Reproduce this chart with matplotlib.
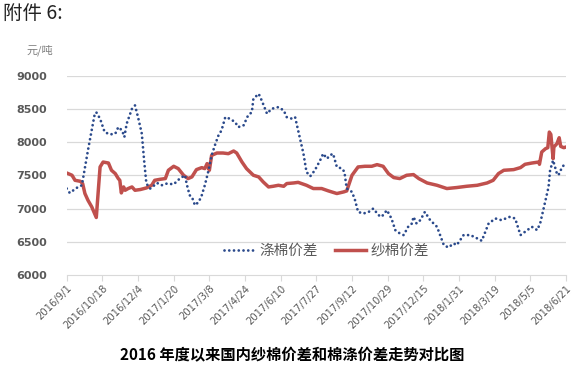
import matplotlib
matplotlib.use("Agg")
import matplotlib.pyplot as plt
import numpy as np
import pandas as pd

plt.rcParams['font.family'] = ['Noto Sans CJK SC', 'DejaVu Sans']

start = pd.Timestamp("2016-09-01")
tick_labels = ["2016/9/1", "2016/10/18", "2016/12/4", "2017/1/20", "2017/3/8",
               "2017/4/24", "2017/6/10", "2017/7/27", "2017/9/12", "2017/10/29",
               "2017/12/15", "2018/1/31", "2018/3/19", "2018/5/5", "2018/6/21"]

# 涤棉价差 (days since 2016-09-01, value)
poly_days = [0, 4, 15, 20, 28, 37, 39, 44, 50, 57, 64, 68, 73, 76, 79, 86, 90, 94, 99,
             102, 105, 110, 114, 119, 125, 132, 141, 149, 156, 158, 162, 165, 169, 174,
             178, 182, 187, 191, 196, 200, 204, 209, 215, 222, 226, 233, 239, 244, 246,
             253, 257, 264, 270, 279, 286, 290, 297, 301, 305, 308, 312, 316, 321, 327,
             334, 338, 343, 347, 351, 356, 363, 366, 369, 376, 380, 384, 391, 398, 404,
             411, 415, 422, 428, 433, 439, 444, 450, 455, 457, 461, 466, 472, 479, 488,
             497, 503, 510, 514, 523, 532, 541, 547, 556, 565, 573, 584, 591, 598, 604,
             613, 620, 624, 631, 635, 637, 641, 646, 648, 653, 658]
poly_vals = [7302, 7236, 7326, 7351, 7877, 8428, 8450, 8353, 8152, 8117, 8127, 8227, 8177,
             8077, 8277, 8503, 8553, 8377, 8127, 7727, 7377, 7302, 7336, 7386, 7351, 7377,
             7366, 7452, 7502, 7377, 7201, 7176, 7051, 7100, 7201, 7351, 7577, 7802, 7977,
             8102, 8177, 8377, 8353, 8302, 8227, 8252, 8402, 8452, 8653, 8728, 8628, 8428,
             8503, 8528, 8478, 8377, 8353, 8377, 8177, 8027, 7827, 7551, 7487, 7577, 7727,
             7827, 7752, 7802, 7827, 7627, 7602, 7551, 7302, 7251, 7126, 6950, 6926, 6950,
             7001, 6901, 6876, 6976, 6851, 6676, 6626, 6601, 6726, 6776, 6876, 6776, 6826,
             6950, 6826, 6726, 6450, 6415, 6475, 6450, 6601, 6601, 6551, 6515, 6776, 6851,
             6826, 6876, 6851, 6601, 6651, 6726, 6676, 6780, 7126, 7326, 7577, 7727, 7527,
             7502, 7627, 7687]

# 纱棉价差
yarn_days = [0, 7, 11, 18, 21, 24, 28, 33, 39, 42, 44, 48, 55, 59, 64, 68, 70, 72, 75,
             77, 81, 86, 90, 97, 105, 112, 116, 123, 130, 134, 141, 147, 154, 160, 165,
             171, 178, 182, 185, 188, 191, 198, 206, 213, 220, 224, 231, 237, 246, 253,
             259, 266, 272, 279, 286, 290, 299, 305, 316, 325, 336, 345, 356, 365, 369,
             376, 384, 393, 402, 409, 417, 424, 431, 439, 448, 457, 464, 475, 488, 501,
             514, 527, 541, 554, 562, 569, 576, 589, 598, 604, 613, 622, 623, 626, 631,
             634, 636, 638, 641, 642, 646, 649, 651, 655, 658]
yarn_vals = [7536, 7502, 7426, 7411, 7377, 7227, 7126, 7026, 6866, 7326, 7627, 7701, 7686,
             7577, 7527, 7452, 7426, 7236, 7326, 7276, 7302, 7326, 7276, 7287, 7311, 7351,
             7426, 7441, 7452, 7577, 7637, 7602, 7502, 7452, 7477, 7587, 7617, 7602, 7677,
             7577, 7802, 7837, 7837, 7827, 7867, 7837, 7701, 7602, 7502, 7477, 7401, 7326,
             7336, 7351, 7336, 7377, 7386, 7395, 7351, 7302, 7302, 7266, 7227, 7251, 7266,
             7502, 7627, 7637, 7637, 7662, 7637, 7527, 7467, 7452, 7502, 7512, 7452, 7386,
             7351, 7302, 7317, 7336, 7351, 7386, 7426, 7527, 7577, 7587, 7617, 7667, 7686,
             7701, 7667, 7852, 7902, 7917, 8152, 8117, 7752, 7927, 7977, 8067, 7937, 7917,
             7927]

poly_x = start + pd.to_timedelta(poly_days, unit="D")
yarn_x = start + pd.to_timedelta(yarn_days, unit="D")
tick_x = pd.to_datetime(tick_labels, format="%Y/%m/%d")

fig = plt.figure(figsize=(5.73, 3.66), dpi=100)
ax = fig.add_axes([0.1164, 0.2486, 0.8714, 0.5444])

grid_c = "#D9D9D9"
for v in range(6500, 9001, 500):
    ax.axhline(v, color=grid_c, lw=0.9, zorder=0)

ax.plot(poly_x, poly_vals, color="#2B4A8C", lw=2.0, linestyle=(0, (0.01, 1.7)),
        dash_capstyle="round", label="涤棉价差", zorder=3)
ax.plot(yarn_x, yarn_vals, color="#C0504D", lw=2.5, label="纱棉价差", zorder=2,
        solid_joinstyle="round")

ax.set_xlim(tick_x[0], tick_x[-1])
ax.set_ylim(6000, 9000)
ax.set_yticks(range(6000, 9001, 500))
ax.set_yticklabels([str(v) for v in range(6000, 9001, 500)], fontsize=8,
                   fontweight="bold", color="#595959", family=["DejaVu Sans"])
ax.set_xticks(tick_x)
ax.set_xticklabels(tick_labels, rotation=45, ha="right", rotation_mode="anchor",
                   fontsize=7.2, color="#595959", family=["DejaVu Sans"])
ax.tick_params(axis="y", length=0, pad=14)
ax.tick_params(axis="x", length=4, color=grid_c, pad=2)

for s in ["left", "right", "top"]:
    ax.spines[s].set_visible(False)
ax.spines["bottom"].set_color(grid_c)

leg = ax.legend(loc="lower center", bbox_to_anchor=(0.52, 0.02), ncol=2, frameon=False,
                fontsize=10.5, handlelength=2.1, columnspacing=1.2, handletextpad=0.3)
for t in leg.get_texts():
    t.set_color("#595959")

fig.text(0.005, 0.963, "附件 6:", fontsize=14, color="#222222", va="center", ha="left")
fig.text(0.047, 0.862, "元/吨", fontsize=8, color="#7F7F7F", va="center", ha="left")
fig.text(0.51, 0.03, "2016 年度以来国内纱棉价差和棉涤价差走势对比图", fontsize=11,
         fontweight="bold", color="#000000", ha="center", va="center")

fig.savefig("out.png", dpi=100)
